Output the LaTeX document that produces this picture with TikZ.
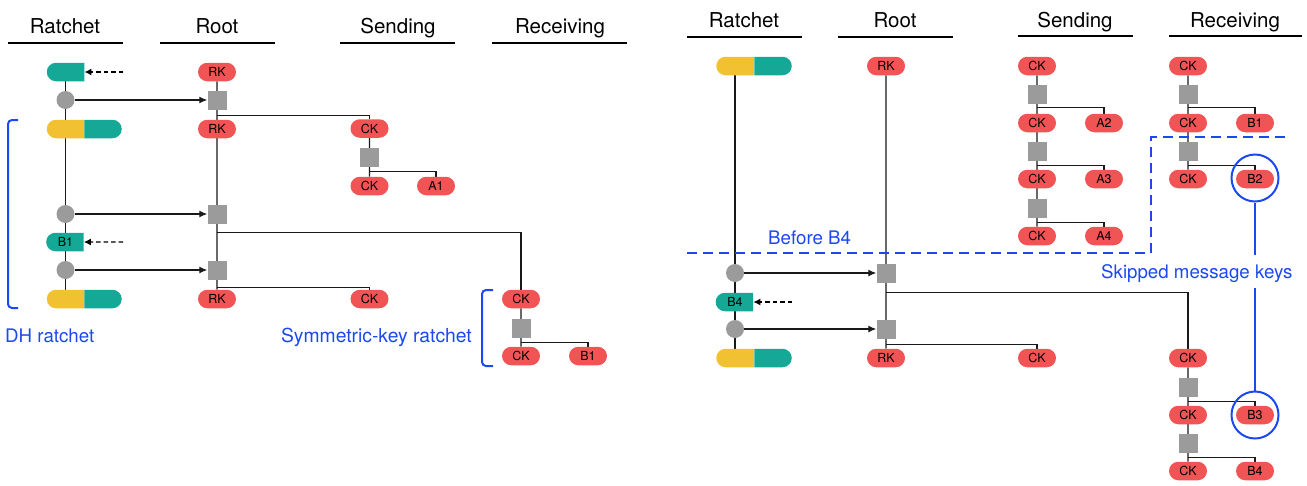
\documentclass[tikz,border=0pt]{standalone}
\usepackage{fontspec}
\setmainfont{TeX Gyre Heros}
\usetikzlibrary{shapes.misc,arrows.meta}
\pgfdeclarelayer{bg}
\pgfsetlayers{bg,main}
\definecolor{keyred}{RGB}{241,84,84}
\definecolor{dhteal}{RGB}{22,168,150}
\definecolor{dhyellow}{RGB}{242,193,50}
\definecolor{dhgray}{RGB}{155,155,155}
\definecolor{hlblue}{RGB}{28,72,242}
\newcommand\HdrFont{\fontsize{20.5}{24}\selectfont}
\newcommand\NoteFont{\fontsize{18.7}{22}\selectfont}
\newcommand\KeyFont{\fontsize{12.5}{14}\selectfont}
\begin{document}
\begin{tikzpicture}[x=1pt,y=-1pt,
  hdr/.style={font=\HdrFont, inner sep=0, anchor=base},
  note/.style={font=\NoteFont, text=hlblue, inner sep=0},
  pill/.style={rounded rectangle, fill=keyred, minimum width=38, minimum height=18.5, inner sep=0, font=\KeyFont},
  halfl/.style={rounded rectangle, rounded rectangle right arc=none, minimum width=37.5, minimum height=18.5, inner sep=0, font=\KeyFont},
  halfr/.style={rounded rectangle, rounded rectangle left arc=none, minimum width=37.5, minimum height=18.5, inner sep=0},
  dhdot/.style={circle, fill=dhgray, minimum size=18, inner sep=0},
  kdf/.style={rectangle, fill=dhgray, minimum size=19, inner sep=0},
  link/.style={draw=black!90, line width=1.15},
  feed/.style={link, -{Latex[length=8,width=7]}},
  inbox/.style={draw=black, line width=1.25, dash pattern=on 4.5 off 3, -{Latex[length=7,width=7]}},
  hrule/.style={draw=black, line width=1.6},
  brace/.style={draw=hlblue, line width=2, rounded corners=4},
  bnd/.style={draw=hlblue, line width=2, dash pattern=on 10 off 6},
  ring/.style={circle, draw=hlblue, line width=2, minimum size=47, inner sep=0},
  hl/.style={draw=hlblue, line width=2}
]
\useasboundingbox (0,0) rectangle (1307,485);

% ---------------- left diagram ----------------
\node[hdr] (hL1) at (65,33) {Ratchet};
\node[hdr] (hL2) at (217,33) {Root};
\node[hdr] (hL3) at (398,33) {Sending};
\node[hdr] (hL4) at (560,33) {Receiving};
\draw[hrule] (8,43) -- (123,43);
\draw[hrule] (160,43) -- (275,43);
\draw[hrule] (340,43) -- (455,43);
\draw[hrule] (492,43) -- (627,43);

% ratchet column
\node[halfl, fill=dhteal] (lT1) at (65.5,72) {};
\node[dhdot] (lD1) at (65.5,100) {};
\node[halfl, fill=dhyellow] (lY1) at (65.5,129) {};
\node[halfr, fill=dhteal] (lG1) at (103,129) {};
\node[dhdot] (lD2) at (65.5,214) {};
\node[halfl, fill=dhteal] (lB1) at (65.5,242) {B1};
\node[dhdot] (lD3) at (65.5,270) {};
\node[halfl, fill=dhyellow] (lY2) at (65.5,299) {};
\node[halfr, fill=dhteal] (lG2) at (103,299) {};
\coordinate (lI1) at (123,72);
\coordinate (lI2) at (123,242);

% root column
\node[pill] (lR0) at (217,72) {RK};
\node[kdf] (lK1) at (217,100) {};
\node[pill] (lR1) at (217,129) {RK};
\node[kdf] (lK2) at (217,214) {};
\node[kdf] (lK3) at (217,270) {};
\node[pill] (lR2) at (217,299) {RK};

% sending
\node[pill] (lS0) at (369.5,128.5) {CK};
\node[kdf] (lSk) at (369.5,157.5) {};
\node[pill] (lS1) at (369.5,186) {CK};
\node[pill] (lA1) at (436,186) {A1};
\node[pill] (lS2) at (369.5,299) {CK};

% receiving
\node[pill] (lV0) at (521,299) {CK};
\node[kdf] (lVk) at (521,328) {};
\node[pill] (lV1) at (521,356) {CK};
\node[pill] (lVB1) at (588,356) {B1};

\draw[brace] (18,120) -- (8,120) -- (8,308) -- (18,308);
\draw[brace] (493,290) -- (482,290) -- (482,366) -- (493,366);
\node[note, anchor=base west] (lN1) at (5,342) {DH ratchet};
\node[note, anchor=base east, font=\fontsize{19.3}{22}\selectfont] (lN2) at (472,342) {Symmetric-key ratchet};

\begin{pgfonlayer}{bg}
\draw[link] (lT1) -- (lY2);
\draw[link] (lR0) -- (lR2);
\draw[feed] (lD1) -- (lK1);
\draw[feed] (lD2) -- (lK2);
\draw[feed] (lD3) -- (lK3);
\draw[link] (lK1.south) ++(0,5.5) -| (lS0);
\draw[link] (lK2.south) ++(0,8.5) -| (lV0);
\draw[link] (lK3.south) ++(0,7.5) -| (lS2);
\draw[link] (lS0) -- (lS1);
\draw[link] (lSk.south) ++(0,4) -| (lA1);
\draw[link] (lV0) -- (lV1);
\draw[link] (lVk.south) ++(0,4.5) -| (lVB1);
\end{pgfonlayer}
\draw[inbox] (lI1) -- (lT1);
\draw[inbox] (lI2) -- (lB1);

% ---------------- right diagram ----------------
\node[hdr] (hR1) at (744,27) {Ratchet};
\node[hdr] (hR2) at (895,27) {Root};
\node[hdr] (hR3) at (1075,27) {Sending};
\node[hdr] (hR4) at (1235,27) {Receiving};
\draw[hrule] (687,37) -- (802,37);
\draw[hrule] (838,37) -- (953,37);
\draw[hrule] (1018,36) -- (1133,36);
\draw[hrule] (1169,36) -- (1302,36);

% ratchet column
\node[halfl, fill=dhyellow] (rY0) at (735,66) {};
\node[halfr, fill=dhteal] (rG0) at (773,66) {};
\node[dhdot] (rD1) at (735,273) {};
\node[halfl, fill=dhteal] (rB4) at (735,302) {B4};
\node[dhdot] (rD2) at (735,329) {};
\node[halfl, fill=dhyellow] (rY1) at (735,358) {};
\node[halfr, fill=dhteal] (rG1) at (773,358) {};
\coordinate (rI) at (792,302);

% root column
\node[pill] (rR0) at (886,66) {RK};
\node[kdf] (rK1) at (886,273) {};
\node[kdf] (rK2) at (886,329) {};
\node[pill] (rR1) at (886,358) {RK};

% sending
\node[pill] (rS0) at (1037,66) {CK};
\node[kdf] (rSk1) at (1037,94) {};
\node[pill] (rS1) at (1037,123) {CK};
\node[pill] (rA2) at (1104,123) {A2};
\node[kdf] (rSk2) at (1037,151) {};
\node[pill] (rS2) at (1037,179) {CK};
\node[pill] (rA3) at (1104,179) {A3};
\node[kdf] (rSk3) at (1037,208) {};
\node[pill] (rS3) at (1037,236) {CK};
\node[pill] (rA4) at (1104,236) {A4};
\node[pill] (rS4) at (1037,358) {CK};

% receiving (old chain)
\node[pill] (rU0) at (1188,66) {CK};
\node[kdf] (rUk1) at (1188,94) {};
\node[pill] (rU1) at (1188,123) {CK};
\node[pill] (rUB1) at (1255,123) {B1};
\node[kdf] (rUk2) at (1188,151) {};
\node[pill] (rU2) at (1188,179) {CK};
\node[pill] (rUB2) at (1255,179) {B2};

% receiving (new chain)
\node[pill] (rV0) at (1188,358) {CK};
\node[kdf] (rVk1) at (1188,387) {};
\node[pill] (rV1) at (1188,415) {CK};
\node[pill] (rVB3) at (1255,415) {B3};
\node[kdf] (rVk2) at (1188,443) {};
\node[pill] (rV2) at (1188,471) {CK};
\node[pill] (rVB4) at (1255,471) {B4};

\begin{pgfonlayer}{bg}
\draw[link] (rY0) -- (rY1);
\draw[link] (rR0) -- (rR1);
\draw[feed] (rD1) -- (rK1);
\draw[feed] (rD2) -- (rK2);
\draw[link] (rK1.south) ++(0,9.5) -| (rV0);
\draw[link] (rK2.south) ++(0,5.5) -| (rS4);
\draw[link] (rS0) -- (rS3);
\draw[link] (rSk1.south) ++(0,3.5) -| (rA2);
\draw[link] (rSk2.south) ++(0,4.5) -| (rA3);
\draw[link] (rSk3.south) ++(0,4.5) -| (rA4);
\draw[link] (rU0) -- (rU2);
\draw[link] (rUk1.south) ++(0,3.5) -| (rUB1);
\draw[link] (rUk2.south) ++(0,4.5) -| (rUB2);
\draw[link] (rV0) -- (rV2);
\draw[link] (rVk1.south) ++(0,4.5) -| (rVB3);
\draw[link] (rVk2.south) ++(0,4.5) -| (rVB4);
\end{pgfonlayer}
\draw[inbox] (rI) -- (rB4);

% highlights
\draw[bnd] (687,253) -- (1151,253) -- (1151,137) -- (1285,137);
\node[note, anchor=base west] (rN1) at (768,244) {Before B4};
\node[note, anchor=base west] (rN2) at (1101,278) {Skipped message keys};
\node[ring] (rC2) at (1255,178) {};
\node[ring] (rC3) at (1255,415) {};
\coordinate (rSa) at (1255,255);
\coordinate (rSb) at (1255,288);
\draw[hl] (rC2) -- (rSa);
\draw[hl] (rSb) -- (rC3);
\end{tikzpicture}
\end{document}
